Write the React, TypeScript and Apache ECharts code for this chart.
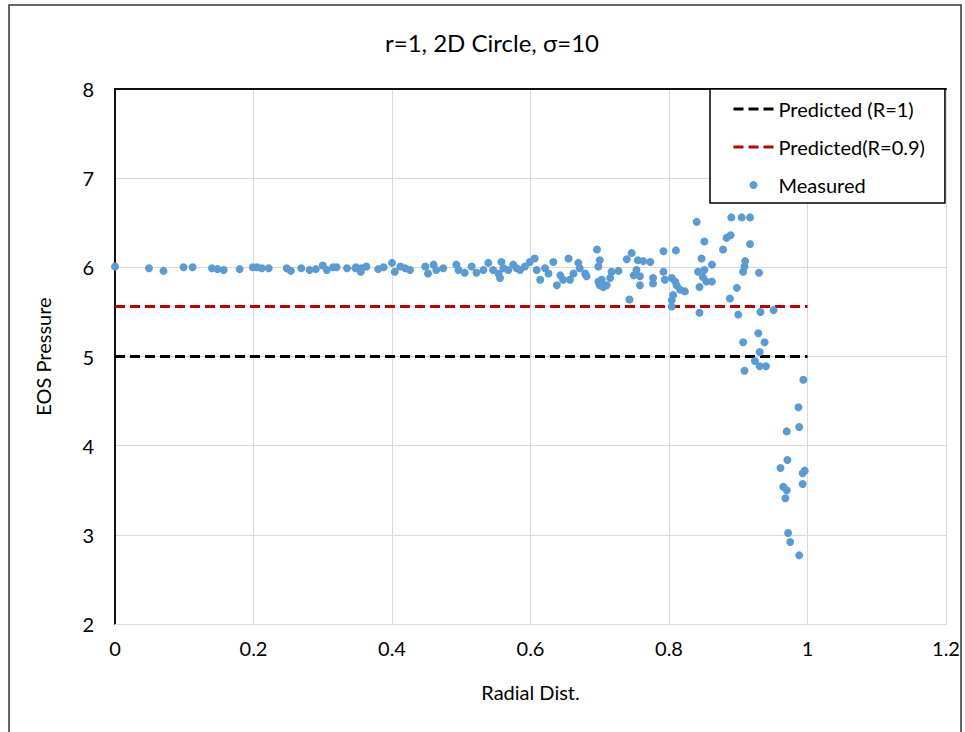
import React, { useEffect, useRef } from "react";
import * as echarts from "echarts";

const TITLE = "r=1, 2D Circle, σ=10";
const X_NAME = "Radial Dist.";
const Y_NAME = "EOS Pressure";

const predictedR1 = 5.0;
const predictedR09 = 5.56;
const predictedRange = [0, 1];

const measuredX = [
  0, 0.049, 0.07, 0.099, 0.112, 0.14, 0.148, 0.157, 0.18, 0.199, 0.205, 0.212, 0.222, 0.248, 0.254, 0.269,
  0.281, 0.29, 0.3, 0.306, 0.315, 0.32, 0.335, 0.348,
  0.347, 0.355, 0.356, 0.363, 0.38, 0.388, 0.4, 0.404, 0.412, 0.419, 0.426, 0.448, 0.452, 0.46, 0.464, 0.474,
  0.493, 0.496, 0.505, 0.515, 0.522, 0.532, 0.539, 0.546, 0.554, 0.556, 0.558, 0.561, 0.568, 0.575, 0.58,
  0.585, 0.592, 0.599, 0.606, 0.609, 0.614, 0.621, 0.626, 0.633, 0.638, 0.643, 0.647, 0.655, 0.657, 0.662,
  0.669, 0.671, 0.681, 0.696, 0.698, 0.698,
  0.679, 0.7, 0.703, 0.7, 0.705, 0.71, 0.715, 0.717, 0.727, 0.739, 0.743, 0.746, 0.749, 0.753, 0.755, 0.758,
  0.758, 0.763, 0.773, 0.777, 0.777, 0.792, 0.792, 0.794, 0.804, 0.809, 0.81, 0.811, 0.804, 0.806, 0.804,
  0.816, 0.823, 0.84, 0.844, 0.847, 0.842, 0.844, 0.851, 0.849, 0.851, 0.854, 0.862, 0.862, 0.878, 0.883,
  0.889, 0.89, 0.888, 0.898, 0.9, 0.905, 0.907, 0.909, 0.91, 0.917, 0.917, 0.93, 0.932, 0.951,
  0.929, 0.907, 0.938, 0.931, 0.924, 0.931, 0.94, 0.909, 0.994,
  0.987, 0.988, 0.97, 0.971, 0.961, 0.993, 0.996, 0.965, 0.97, 0.968, 0.993, 0.972, 0.975, 0.988,
];

const measuredY = [
  6.01, 5.99, 5.96, 6.0, 6.0, 5.99, 5.98, 5.97, 5.98, 6.0, 6.0, 5.99, 5.99, 5.99, 5.96, 5.99,
  5.97, 5.98, 6.02, 5.97, 6.0, 6.0, 5.99, 6.0,
  5.99, 5.95, 5.99, 6.01, 5.98, 6.0, 6.05, 5.95, 6.01, 5.99, 5.97, 6.01, 5.93, 6.03, 5.97, 5.99,
  6.03, 5.97, 5.94, 6.01, 5.94, 5.97, 6.05, 5.97, 5.93, 5.88, 6.06, 5.99, 5.97, 6.03, 5.99,
  5.97, 6.01, 6.06, 6.1, 5.97, 5.86, 5.99, 5.93, 6.06, 5.8, 5.91, 5.86, 6.1, 5.86, 5.93,
  6.05, 5.99, 5.9, 6.2, 6.01, 5.84,
  5.93, 6.08, 5.86, 5.8, 5.78, 5.8, 5.88, 5.95, 5.96, 6.09, 5.64, 6.16, 5.91, 5.97, 6.08, 5.9,
  5.8, 6.07, 6.06, 5.88, 5.82, 6.18, 5.95, 5.86, 5.88, 5.84, 6.19, 5.8, 5.63, 5.69, 5.56,
  5.75, 5.73, 6.51, 5.49, 6.1, 5.95, 5.78, 6.29, 5.89, 5.97, 5.84, 6.03, 5.84, 6.2, 6.33,
  6.36, 6.56, 5.65, 5.77, 5.47, 6.56, 5.95, 6.01, 6.07, 6.56, 6.26, 5.94, 5.5, 5.52,
  5.26, 5.16, 5.16, 5.05, 4.95, 4.89, 4.89, 4.84, 4.74,
  4.43, 4.21, 4.16, 3.84, 3.75, 3.69, 3.72, 3.54, 3.5, 3.41, 3.57, 3.02, 2.92, 2.77,
];

const FONT = "Lato, 'Noto Sans', sans-serif";

export default function App() {
  const ref = useRef<HTMLDivElement>(null);
  useEffect(() => {
    if (!ref.current) return;
    const chart = echarts.init(ref.current, undefined, { renderer: "svg" });
    const measured = measuredX.map((x, i) => [x, measuredY[i]]);
    chart.setOption({
      animation: false,
      backgroundColor: "#fff",
      textStyle: { fontFamily: FONT },
      title: {
        text: TITLE,
        left: 487,
        top: 25,
        textAlign: "center",
        textStyle: { fontFamily: FONT, fontSize: 24, fontWeight: "normal", color: "#000" },
      },
      graphic: [
        {
          type: "rect",
          shape: { x: 9, y: 5, width: 952, height: 760 },
          style: { fill: "none", stroke: "#333", lineWidth: 1.5 },
          silent: true,
          z: -10,
        },
      ],
      grid: { left: 115, top: 89, right: 19, bottom: 108 },
      legend: {
        orient: "vertical",
        left: 710,
        top: 89,
        padding: [9, 20, 7, 22],
        itemWidth: 40,
        itemHeight: 8,
        itemGap: 16,
        backgroundColor: "#fff",
        borderColor: "#000",
        borderWidth: 1.5,
        lineStyle: { width: 3 },
        textStyle: { fontFamily: FONT, fontSize: 20, color: "#000", lineHeight: 22 },
        data: [
          { name: "Predicted (R=1)", itemStyle: { opacity: 0 } },
          { name: "Predicted(R=0.9)", itemStyle: { opacity: 0 } },
          { name: "Measured" },
        ],
      },
      xAxis: [
        {
          type: "value",
          min: 0,
          max: 1.2,
          interval: 0.2,
          name: X_NAME,
          nameLocation: "middle",
          nameGap: 58,
          nameTextStyle: { fontFamily: FONT, fontSize: 20, color: "#000" },
          axisLine: { show: true, lineStyle: { color: "#D9D9D9", width: 1 } },
          axisTick: { show: false },
          axisLabel: { fontFamily: FONT, fontSize: 20, color: "#000", margin: 14 },
          splitLine: { show: true, lineStyle: { color: "#D9D9D9", width: 1 } },
        },
        {
          type: "value",
          position: "top",
          min: 0,
          max: 1.2,
          axisLine: { show: true, lineStyle: { color: "#111", width: 2 } },
          axisTick: { show: false },
          axisLabel: { show: false },
          splitLine: { show: false },
        },
      ],
      yAxis: [
        {
          type: "value",
          min: 2,
          max: 8,
          interval: 1,
          name: Y_NAME,
          nameLocation: "middle",
          nameGap: 62,
          nameTextStyle: { fontFamily: FONT, fontSize: 20, color: "#000" },
          axisLine: { show: true, lineStyle: { color: "#111", width: 2 } },
          axisTick: { show: false },
          axisLabel: { fontFamily: FONT, fontSize: 20, color: "#000", margin: 21 },
          splitLine: { show: true, lineStyle: { color: "#D9D9D9", width: 1 } },
        },
        {
          type: "value",
          position: "right",
          min: 2,
          max: 8,
          axisLine: { show: true, lineStyle: { color: "#111", width: 2 } },
          axisTick: { show: false },
          axisLabel: { show: false },
          splitLine: { show: false },
        },
      ],
      series: [
        {
          name: "Predicted (R=1)",
          type: "line",
          symbol: "none",
          data: predictedRange.map((x) => [x, predictedR1]),
          lineStyle: { color: "#000", width: 3, type: [10, 5] },
          itemStyle: { color: "#000" },
          z: 3,
        },
        {
          name: "Predicted(R=0.9)",
          type: "line",
          symbol: "none",
          data: predictedRange.map((x) => [x, predictedR09]),
          lineStyle: { color: "#C00000", width: 3, type: [10, 5] },
          itemStyle: { color: "#C00000" },
          z: 3,
        },
        {
          name: "Measured",
          type: "scatter",
          symbol: "circle",
          symbolSize: 8,
          data: measured,
          itemStyle: { color: "#5B9BD5", opacity: 1 },
          z: 4,
        },
      ],
    });
    return () => chart.dispose();
  }, []);
  return <div ref={ref} style={{ width: 965, height: 732, position: "absolute", left: 0, top: 0 }} />;
}
